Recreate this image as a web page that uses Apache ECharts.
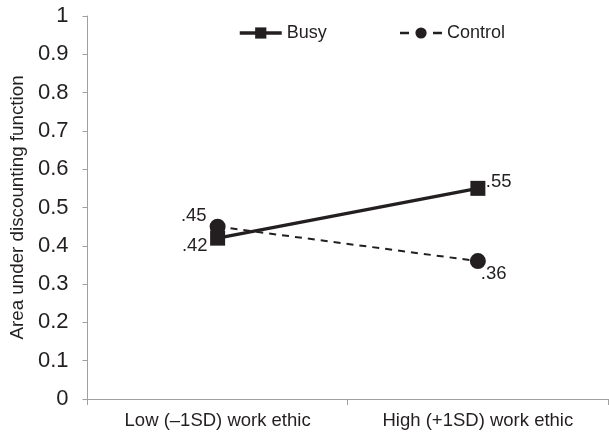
<!DOCTYPE html>
<html>
<head>
<meta charset="utf-8">
<script src="https://cdn.jsdelivr.net/npm/echarts@6/dist/echarts.min.js"></script>
<style>
  html, body { margin: 0; padding: 0; background: #fff; }
  #chart { width: 609px; height: 433px; }
</style>
</head>
<body>
<div id="chart"></div>
<script>
// Work-ethic levels on the x axis
const categories = ['Low (\u20131SD) work ethic', 'High (+1SD) work ethic'];
// Area under the discounting function per condition
const busyValues = [0.42, 0.55];
const controlValues = [0.45, 0.36];
const seriesNames = ['Busy', 'Control'];

const INK = '#231f20';
const AXIS = '#a0a0a0';
const FONT = '"Liberation Sans", Arial, sans-serif';

// Where each value label sits relative to its marker
const busyLabelStyle = [
  { align: 'right', offset: [-10, 8] },
  { align: 'left', offset: [8, -6] }
];
const controlLabelStyle = [
  { align: 'right', offset: [-11, -11] },
  { align: 'left', offset: [3, 13] }
];

const fmt = p => String(p.value).replace(/^0/, '');

function withLabels(values, styles) {
  return values.map((v, i) => ({
    value: v,
    label: {
      show: true,
      position: 'inside',
      verticalAlign: 'middle',
      align: styles[i].align,
      offset: styles[i].offset,
      formatter: fmt,
      color: INK,
      fontSize: 18.5,
      fontFamily: FONT
    }
  }));
}

const chart = echarts.init(document.getElementById('chart'), null, { renderer: 'canvas' });
chart.setOption({
  animation: false,
  backgroundColor: '#fff',
  grid: { left: 86, right: 1, top: 16, bottom: 34 },
  legend: {
    left: 233,
    top: 19,
    itemGap: 72,
    itemWidth: 42,
    itemHeight: 14,
    textStyle: { fontSize: 18, color: INK, fontFamily: FONT },
    lineStyle: { width: 3 },
    data: [
      { name: seriesNames[0], lineStyle: { width: 3.5 } },
      { name: seriesNames[1], lineStyle: { width: 2.5, type: [9, 24] } }
    ]
  },
  xAxis: {
    type: 'category',
    data: categories,
    boundaryGap: true,
    axisLine: { lineStyle: { color: AXIS, width: 1 } },
    axisTick: { show: true, length: 6, lineStyle: { color: AXIS } },
    axisLabel: { color: INK, fontSize: 18.5, fontFamily: FONT, margin: 12 },
    splitLine: { show: false }
  },
  yAxis: {
    type: 'value',
    min: 0,
    max: 1,
    interval: 0.1,
    name: 'Area under discounting function',
    nameLocation: 'middle',
    nameGap: 60,
    nameTextStyle: { color: INK, fontSize: 18.8, fontFamily: FONT },
    axisLine: { show: true, lineStyle: { color: AXIS, width: 1 } },
    axisTick: { show: true, length: 5, lineStyle: { color: AXIS } },
    axisLabel: {
      color: INK, fontSize: 22, fontFamily: FONT, margin: 19,
      formatter: v => (v === 0 || v === 1) ? String(v) : v.toFixed(1)
    },
    splitLine: { show: false }
  },
  series: [
    {
      name: seriesNames[0],
      type: 'line',
      data: withLabels(busyValues, busyLabelStyle),
      symbol: 'rect',
      symbolSize: 15,
      itemStyle: { color: INK },
      lineStyle: { color: INK, width: 3.5 },
      z: 3
    },
    {
      name: seriesNames[1],
      type: 'line',
      data: withLabels(controlValues, controlLabelStyle),
      symbol: 'circle',
      symbolSize: 16,
      itemStyle: { color: INK },
      lineStyle: { color: INK, width: 2, type: [7, 6] },
      z: 2
    }
  ]
});
</script>
</body>
</html>
